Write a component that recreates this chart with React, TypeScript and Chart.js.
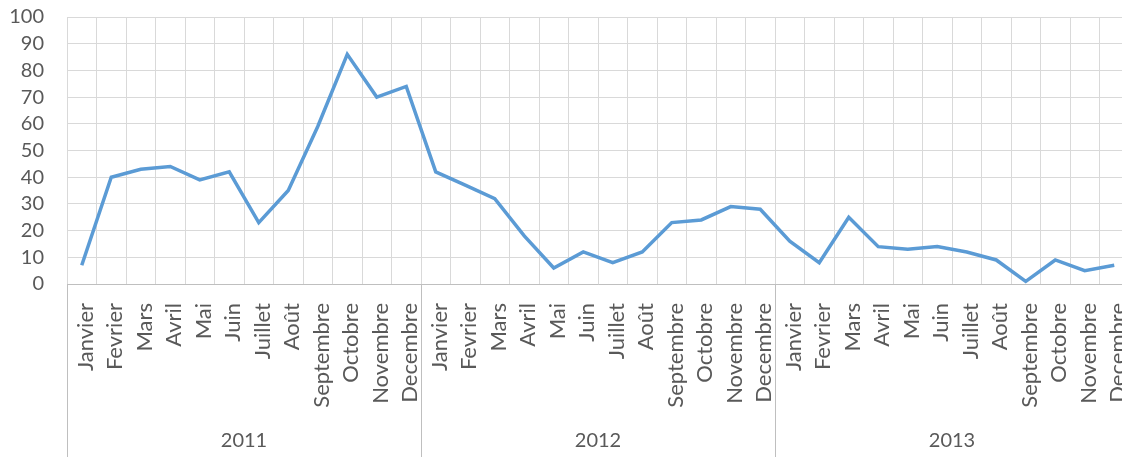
import React, { useEffect, useRef } from "react";
import { Chart, registerables } from "chart.js";

Chart.register(...registerables);

const months = ["Janvier", "Fevrier", "Mars", "Avril", "Mai", "Juin", "Juillet", "Août", "Septembre", "Octobre", "Novembre", "Decembre"];
const years = ["2011", "2012", "2013"];
const values2011 = [7, 40, 43, 44, 39, 42, 23, 35, 59, 86, 70, 74];
const values2012 = [42, 37, 32, 18, 6, 12, 8, 12, 23, 24, 29, 28];
const values2013 = [16, 8, 25, 14, 13, 14, 12, 9, 1, 9, 5, 7];

const labels = [...months, ...months, ...months];
const data = [...values2011, ...values2012, ...values2013];

const TEXT = "#595959";
const GRID = "#d9d9d9";
const AXIS = "#bfbfbf";
const FONT = "Lato";

const yearPlugin = {
  id: "yearGroups",
  afterDraw(chart: any) {
    const x = chart.scales.x;
    const ctx = chart.ctx;
    const n = labels.length;
    const w = (x.right - x.left) / n;
    const top = chart.chartArea.bottom;
    const bottom = chart.height;
    ctx.save();
    ctx.strokeStyle = AXIS;
    ctx.lineWidth = 1;
    for (let g = 0; g <= years.length; g++) {
      const px = Math.round(x.left + g * 12 * w) + 0.5;
      ctx.beginPath();
      ctx.moveTo(px, top);
      ctx.lineTo(px, bottom);
      ctx.stroke();
    }
    ctx.fillStyle = TEXT;
    ctx.font = `20px ${FONT}`;
    ctx.textAlign = "center";
    ctx.textBaseline = "middle";
    years.forEach((yr, g) => {
      const cx = x.left + (g * 12 + 6) * w;
      ctx.fillText(yr, cx, 441);
    });
    ctx.restore();
  },
};

export default function App() {
  const ref = useRef<HTMLCanvasElement>(null);
  useEffect(() => {
    document.body.style.margin = "0";
    const chart = new Chart(ref.current!, {
      type: "line",
      data: {
        labels,
        datasets: [
          {
            data,
            borderColor: "#5b9bd5",
            borderWidth: 3.5,
            pointRadius: 0,
            tension: 0,
            fill: false,
          },
        ],
      },
      options: {
        responsive: false,
        animation: false,
        layout: { padding: { top: 17, left: 0, right: 0, bottom: 0 } },
        plugins: { legend: { display: false }, tooltip: { enabled: false } },
        scales: {
          x: {
            offset: true,
            grid: { color: GRID, offset: true, drawTicks: false },
            border: { color: AXIS },
            ticks: {
              color: TEXT,
              font: { family: FONT, size: 22 },
              minRotation: 90,
              maxRotation: 90,
              autoSkip: false,
              padding: 19,
              labelOffset: 4,
            },
            afterFit: (s: any) => {
              s.height = 457 - 284;
              s.paddingLeft = 0;
              s.paddingRight = 0;
            },
          },
          y: {
            min: 0,
            max: 100,
            grid: { color: GRID, drawTicks: false },
            border: { color: GRID },
            ticks: {
              stepSize: 10,
              autoSkip: false,
              color: TEXT,
              font: { family: FONT, size: 20 },
              padding: 23,
            },
            afterFit: (s: any) => {
              s.width = 67;
              s.paddingTop = 0;
              s.paddingBottom = 0;
            },
          },
        },
      },
      plugins: [yearPlugin],
    });
    return () => chart.destroy();
  }, []);
  return (
    <div style={{ width: 1122, height: 457, overflow: "hidden", background: "#fff" }}>
      <canvas ref={ref} width={1129} height={457} style={{ display: "block" }} />
    </div>
  );
}
